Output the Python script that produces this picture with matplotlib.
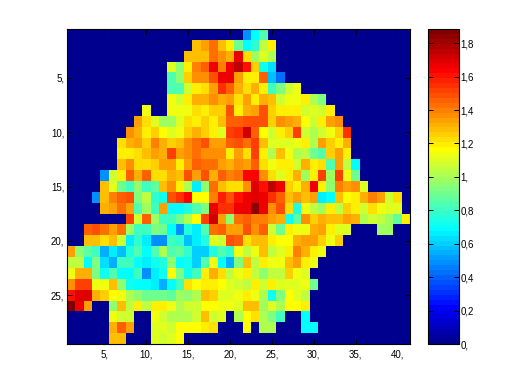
import numpy as np
import matplotlib
matplotlib.use('Agg')
import matplotlib.pyplot as plt
from matplotlib.colors import ListedColormap

plt.rcParams['font.family'] = ['Liberation Sans', 'DejaVu Sans']

N_COLS = 41

# one list per row of the grid, 0 = outside the region
row01 = [0]*21 + [.5, .68, .85]
row02 = [0]*15 + [1.27, 1.33, 1.42, 1.28, 1.2, .9, .68, .78, 1.05, 1.18]
row03 = [0]*14 + [1.27, 1.27, 1.27, 1.42, 1.37, 1.32, 1.65, 1.23, 1.0, 1.1, 1.03]
row04 = [0]*12 + [1.1, .95, 1.2, 1.4, 1.47, 1.65, 1.4, 1.65, 1.75, 1.6, 1.25, .72, .62]
row05 = [0]*12 + [.85, .97, 1.25, 1.38, 1.38, 1.5, 1.65, 1.65, 1.35, 1.2, 1.2, 1.47, .58, .42]
row06 = [0]*12 + [.85, .85, 1.07, 1.2, 1.22, 1.35, 1.55, 1.47, 1.3, 1.22, 1.3, 1.2, .8, .93, 1.07, 1.13]
row07 = [0]*12 + [1.12, 1.07, 1.2, 1.3, 1.32, 1.38, 1.3, 1.33, 1.23, 1.33, 1.2, 1.3, 1.28, 1.07, 1.13, 1.13, 1.2, 1.03, .92]
row08 = [0]*9 + [1.13, 0, 0, 1.13, 1.13, 1.13, 1.22, 1.2, 1.25, 1.25, 1.48, 1.18, 1.32, 1.33, 1.5, 1.25, 1.2, 1.2, 1.2, 1.07, 1.1, 1.07, 1.18]
row09 = [0]*8 + [1.33, 1.23, 1.1, 1.0, 1.0, 1.1, 1.23, 1.18, 1.25, 1.18, 1.28, 1.45, 1.45, 1.5, 1.5, 1.5, 1.25, 1.38, 1.33, 1.3, 1.15, 1.07, 1.2, 1.33, 1.38]
row10 = [0]*7 + [1.38, 1.3, 1.2, 1.25, 1.15, 1.1, 1.13, 1.25, 1.32, 1.25, 1.18, 1.1, 1.52, 1.55, 1.72, 1.47, 1.15, 1.07, 1.2, 1.25, 1.53, 1.07, 1.03, 1.07, 1.13, 1.25, 1.55]
row11 = [0]*6 + [1.22, 1.3, 1.35, 1.25, 1.4, 1.32, 1.25, 1.28, 1.38, 1.42, 1.48, 1.33, 1.35, 1.45, 1.5, 1.42, 1.52, 1.28, 1.1, 1.1, 1.1, 1.13, 1.18, 1.03, 1.33, 1.25, 1.2, 1.32]
row12 = [0]*6 + [1.2, 1.2, 1.22, 1.28, 1.33, 1.3, 1.53, 1.35, 1.38, 1.42, 1.38, 1.38, 1.38, 1.18, 1.33, 1.23, 1.52, 1.2, 1.03, 1.27, 1.13, 1.03, 1.05, .9, .85, 1.25, 1.33, 1.2]
row13 = [0]*6 + [1.27, 1.38, 1.22, 1.22, 1.25, 1.35, 1.35, 1.2, 1.35, 1.47, 1.43, 1.43, 1.33, 1.3, 1.38, 1.35, 1.45, 1.22, 1.13, 1.2, 1.2, 1.07, 1.32, 1.2, 1.23, .85, 1.35, 1.05, .7]
row14 = [0]*4 + [.5, 1.07, 1.2, 1.47, 1.3, 1.45, 1.22, 1.22, 1.32, 1.27, 1.5, 1.33, 1.5, 1.32, 1.45, 1.4, 1.42, 1.62, 1.62, 1.37, 1.22, 1.1, 1.2, 1.3, 1.0, 1.2, 1.52, 1.0, 1.52, 1.12, .9]
row15 = [0]*4 + [1.28, 1.1, .9, .8, .95, .82, .87, 1.27, 1.38, 1.2, 1.03, .65, .95, 1.42, 1.27, 1.22, 1.23, 1.38, 1.7, 1.6, 1.75, 1.65, 1.25, 1.2, 1.3, 1.65, 1.2, .95, 1.4, 1.33, 1.37, 1.1]
row16 = [0]*3 + [.5, 1.28, 1.4, 1.45, 1.5, .92, 1.05, .78, .72, 1.48, 1.55, 1.62, 1.17, 1.17, 1.4, 1.57, 1.5, 1.6, 1.65, 1.68, 1.65, 1.55, 1.47, 1.27, 1.35, 1.27, 1.33, .65, .7, 1.27, 1.17, 1.2, 1.3, 1.4, 1.33, 1.07, 1.22]
row17 = [0]*4 + [1.3, 1.33, 1.42, 1.35, .85, 1.0, .82, 1.33, .7, .68, .75, .85, .92, 1.65, 1.55, 1.55, 1.65, 1.65, 1.85, 1.65, 1.38, 1.5, 1.23, .75, 1.13, 1.05, .98, 1.2, 1.05, 1.25, 1.2, 1.07, 1.23, 1.13, 1.1, 1.1]
row18 = [0]*7 + [1.52, 1.07, 1.47, .98, .8, .82, .9, 1.03, 1.17, 1.52, 1.72, 1.33, .95, 1.42, 1.47, 1.4, 1.4, 1.33, 1.3, .72, .88, 1.37, 1.25, 1.32, 1.27, 1.27, 1.33, 1.3, 1.03, 1.07, 1.05, 1.0, .88, 1.2]
row19 = [0]*2 + [1.47, 1.5, 1.42, 1.35, 1.42, 1.0, .82, .82, .92, .9, .7, .5, .75, .65, .85, 1.42, 1.47, 1.33, 1.33, 1.5, 1.38, 1.47, 1.07, .9, 1.2, 1.12, 1.12, 1.32, 1.35, 1.2, 1.1, 1.1, 0, 0, 0, 1.0, 1.0]
row20 = [0]*2 + [1.27, 1.27, 1.23, 1.27, 1.07, .65, .78, .65, .5, .5, .82, .78, .58, .65, .75, 1.1, 1.07, 1.5, 1.47, 1.22, 1.27, 1.28, 1.2, 1.17, 1.17, 1.3, 1.33, 1.33, 1.25, 1.12, 1.25]
row21 = [1.33, .97, .87, .8, .55, .65, .58, .75, .85, .68, .85, 1.03, .85, .87, .78, .6, .6, .75, .85, .78, 1.12, 1.05, 1.12, 1.27, 1.05, 1.1, 1.2, 1.4, 1.32, 1.2, 1.12]
row22 = [1.05, 1.05, .7, .92, .62, .55, .82, .8, .7, .65, .72, .75, .95, .7, .72, .6, .85, 1.12, .7, .55, .92, 1.27, 1.05, 1.2, 1.12, 1.12, 1.28, 1.33, 1.2, 1.12]
row23 = [1.12, 1.32, 1.3, .92, .72, .85, .7, .7, .8, .5, .65, .72, 1.17, .92, .72, .8, 1.2, 1.32, 1.23, 1.05, 1.12, 1.2, 1.05, .95, 1.05, 1.05, 1.25, 1.13, 1.1]
row24 = [1.38, 1.52, 1.52, 1.12, 1.12, 1.27, .97, .72, .7, .7, .65, .55, .7, .8, 1.22, 1.15, 1.2, 1.2, 1.17, 1.1, 1.07, 1.05, 1.18, 1.07, 1.18, 1.1, 1.1, 1.1, 1.13, .9]
row25 = [1.6, 1.68, 1.7, 1.32, 1.25, 1.17, 1.12, 1.03, .95, .9, .9, .9, .87, 1.0, .97, 1.03, 1.27, 1.25, 1.1, 1.1, 1.12, 1.18, 1.12, 1.03, .72, .92, 1.17, 1.1, 1.05]
row26 = [1.88, 1.65, 1.33, 0, 0, .97, 1.27, 1.05, 1.18, 1.05, 1.18, 1.18, 1.12, 1.02, 1.08, 1.08, 1.15, 1.15, 1.13, 1.13, 1.1, 1.27, 1.27, 1.0, 1.1, 1.03, 1.15, 1.15, 1.2]
row27 = [0]*5 + [1.13, 1.07, 1.07, 0, 0, 1.13, 1.08, 1.03, 1.03, 1.03, 1.07, 1.27, 1.07, 1.1, 0, 1.03, 1.15, 1.23, 1.03, .92, .8, 0, 0, .68]
row28 = [0]*5 + [1.3, 1.45, 1.35, 0, 0, 1.1, 1.1, 1.07, 1.15, 1.15, 1.15, 1.2, 1.23, 0, 0, 0, 1.17, 0, 1.03, 1.03, 0, 0, 0, .68, .68]
row29 = [0]*5 + [1.27, 1.27, 0, 0, 0, 1.1, 1.07, 1.1, 1.15]

rows = [row01, row02, row03, row04, row05, row06, row07, row08, row09, row10,
        row11, row12, row13, row14, row15, row16, row17, row18, row19, row20,
        row21, row22, row23, row24, row25, row26, row27, row28, row29]

V_MAX = 1.885
x_ticks = [5, 10, 15, 20, 25, 30, 35, 40]
x_labels = ['5,', '10,', '15,', '20,', '25,', '30,', '35,', '40,']
y_ticks = [5, 10, 15, 20, 25]
y_labels = ['5,', '10,', '15,', '20,', '25,']
cbar_ticks = [0, .2, .4, .6, .8, 1, 1.2, 1.4, 1.6, 1.8]
cbar_labels = ['0,', '0,2', '0,4', '0,6', '0,8', '1,', '1,2', '1,4', '1,6', '1,8']

# pad the short rows out to the full width
grid = np.array([r + [0]*(N_COLS - len(r)) for r in rows])

# matlab style jet, 64 levels
x = (np.arange(64) + 1) / 64
r = np.clip(np.minimum(4*x - 1.5, -4*x + 4.5), 0, 1)
g = np.clip(np.minimum(4*x - 0.5, -4*x + 3.5), 0, 1)
b = np.clip(np.minimum(4*x + 0.5, -4*x + 2.5), 0, 1)
jet64 = ListedColormap(np.column_stack([r, g, b]))

W, H = 516, 387
fig = plt.figure(figsize=(W/100, H/100), dpi=100, facecolor='white')
ax = fig.add_axes([67/W, 1 - 344/H, 343/W, 315/H])
im = ax.imshow(grid, cmap=jet64, vmin=0, vmax=V_MAX, aspect='auto',
               interpolation='nearest',
               extent=[0.5, N_COLS + 0.5, len(rows) + 0.5, 0.5])
ax.set_xticks(x_ticks, x_labels)
ax.set_yticks(y_ticks, y_labels)
ax.tick_params(direction='in', top=True, right=True, length=3.5, width=0.7,
               labelsize=7)
ax.tick_params(axis='x', pad=4)
ax.tick_params(axis='y', pad=2)

cax = fig.add_axes([428/W, 1 - 344/H, 31/W, 315/H])
cbar = fig.colorbar(im, cax=cax)
cbar.set_ticks(cbar_ticks, labels=cbar_labels)
cax.tick_params(direction='in', left=True, right=True, length=3.5, width=0.7,
                labelsize=7, pad=1)

for a in (ax, cax):
    for s in a.spines.values():
        s.set_linewidth(0.8)
cbar.outline.set_linewidth(0.8)

fig.savefig('out.png', dpi=100)
